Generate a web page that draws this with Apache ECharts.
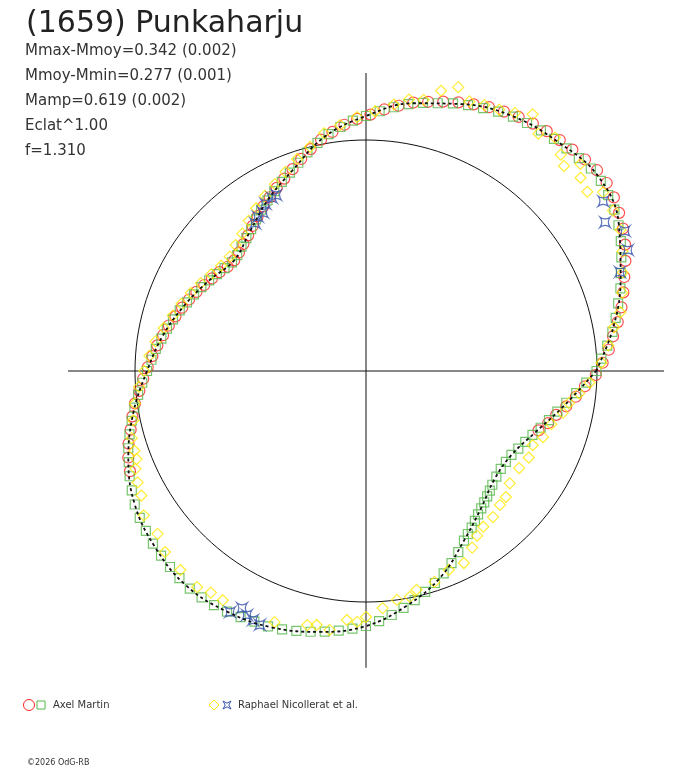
<!DOCTYPE html>
<html>
<head>
<meta charset="utf-8">
<script src="https://cdn.jsdelivr.net/npm/echarts@6/dist/echarts.min.js"></script>
<style>
html, body { margin: 0; padding: 0; background: #fff; }
#chart { width: 688px; height: 768px; }
</style>
</head>
<body>
<div id="chart"></div>
<script>
// all points are [phase angle in degrees, radius in units of the reference circle]
var titleText = '(1659) Punkaharju';
var statLines = ['Mmax-Mmoy=0.342 (0.002)', 'Mmoy-Mmin=0.277 (0.001)', 'Mamp=0.619 (0.002)', 'Eclat^1.00', 'f=1.310'];
var observers = ['Axel Martin', 'Raphael Nicollerat et al.'];
var footer = '\u00a92026 OdG-RB';

// fitted lightcurve, every 10 degrees
var fitAngles = [0, 10, 20, 30, 40, 50, 60, 70, 80, 90, 100, 110, 120, 130, 140, 150, 160, 170,
	180, 190, 200, 210, 220, 230, 240, 250, 260, 270, 280, 290, 300, 310, 320, 330, 340, 350, 360];
var fitRadius = [0.996, 1.087, 1.173, 1.264, 1.312, 1.294, 1.273, 1.229, 1.177, 1.104, 1.030, 0.926,
	0.853, 0.784, 0.745, 0.784, 0.835, 0.892, 0.948, 1.022, 1.095, 1.156, 1.190, 1.212, 1.203, 1.182,
	1.147, 1.104, 1.030, 0.948, 0.848, 0.775, 0.727, 0.727, 0.779, 0.870, 0.996];

// Axel Martin, squares
var martinSquares = [[0,0.998],[3,1.02],[6,1.05],[9,1.08],[12,1.105],[15,1.13],[18,1.158],[21,1.182],[24,1.21],[27,1.238],
	[30,1.262],[33,1.282],[36,1.296],[39,1.308],[42,1.31],[45,1.303],[48,1.297],[51,1.293],[54,1.288],[57,1.28],
	[60,1.272],[63,1.26],[66,1.246],[69,1.233],[72,1.218],[75,1.2],[78,1.187],[81,1.17],[84,1.148],[87,1.126],
	[90,1.104],[93,1.085],[96,1.062],[99,1.038],[102,1.01],[105,0.98],[108,0.948],[111,0.92],[114,0.896],[117,0.874],
	[120,0.853],[123,0.833],[126,0.811],[129,0.79],[132,0.774],[135,0.762],[138,0.75],[141,0.747],[144,0.757],[147,0.77],
	[150,0.784],[153,0.8],[156,0.815],[159,0.83],[162,0.848],[165,0.865],[168,0.881],[171,0.897],[174,0.915],[177,0.93],
	[180,0.948],[183,0.97],[186,0.992],[189,1.015],[192,1.037],[195,1.06],[198,1.082],[201,1.1],[204,1.12],[207,1.138],
	[210,1.156],[213,1.168],[216,1.178],[219,1.187],[222,1.194],[225,1.2],[228,1.207],[231,1.212],[234,1.211],[237,1.208],
	[240,1.203],[243,1.196],[246,1.188],[249,1.184],[252,1.176],[255,1.165],[258,1.154],[261,1.142],[264,1.13],[267,1.117],
	[270,1.104],[273,1.084],[276,1.062],[279,1.038],[282,1.014],[285,0.99],[288,0.965],[291,0.938],[294,0.91],[297,0.88],
	[300,0.848],[302,0.832],[304,0.818],[306,0.802],[308,0.788],[310,0.776],[312,0.765],[314,0.755],[316,0.745],[318,0.736],
	[321,0.726],[324,0.721],[327,0.722],[330,0.727],[333,0.74],[336,0.755],[339,0.772],[342,0.795],[345,0.82],[348,0.847],
	[351,0.878],[354,0.915],[357,0.955]];

// Axel Martin, circles
var martinCircles = [[341,0.79],[344,0.82],[347,0.845],[350,0.88],[353,0.915],[356,0.95],[359,0.995],[2,1.025],[5,1.055],[8,1.08],
	[11,1.11],[14,1.14],[17,1.165],[20,1.19],[23,1.22],[26,1.248],[29,1.272],[32,1.292],[35,1.31],[38,1.322],
	[41,1.325],[44,1.318],[47,1.31],[50,1.305],[53,1.3],[56,1.292],[59,1.283],[62,1.272],[65,1.26],[68,1.245],
	[71,1.23],[74,1.213],[77,1.196],[80,1.18],[83,1.157],[86,1.135],[89,1.11],[92,1.092],[95,1.07],[98,1.045],
	[101,1.02],[104,0.99],[107,0.96],[110,0.93],[113,0.905],[116,0.882],[119,0.86],[122,0.84],[125,0.818],[128,0.797],
	[131,0.778],[134,0.764],[137,0.752],[140,0.745],[143,0.75],[146,0.765],[149,0.778],[152,0.793],[155,0.81],[158,0.826],
	[161,0.842],[164,0.858],[167,0.876],[170,0.892],[173,0.91],[176,0.927],[179,0.945],[182,0.965],[185,0.985],[188,1.01],
	[191,1.03],[194,1.05],[197,1.075],[200,1.095],[203,1.11]];

// Raphael Nicollerat et al., diamonds
var nicolleratDiamonds = [[2,1.02],[6,1.055],[10,1.09],[13,1.13],[17,1.16],[21,1.19],[25,1.225],[29,1.26],[33,1.275],[37,1.285],
	[39,1.233],[42,1.25],[44,1.29],[46,1.234],[48,1.26],[51,1.3],[54,1.27],[57,1.325],[60,1.29],[63,1.27],
	[66,1.26],[69,1.25],[72,1.292],[75,1.256],[78,1.2],[81,1.19],[84,1.16],[88,1.125],[92,1.1],[96,1.07],
	[100,1.045],[104,1.0],[108,0.965],[112,0.93],[116,0.9],[120,0.875],[124,0.85],[128,0.825],[132,0.8],[136,0.785],
	[140,0.77],[144,0.775],[148,0.79],[152,0.81],[156,0.83],[160,0.85],[164,0.87],[168,0.895],[172,0.92],[176,0.94],
	[180,0.96],[184,0.985],[188,1.01],[192,1.03],[196,1.055],[199,1.06],[201,1.064],[203,1.084],[206,1.10],[209,1.112],
	[213,1.147],[218,1.145],[222,1.171],[227,1.178],[232,1.187],[235,1.171],[238,1.17],[250,1.157],[257,1.129],[259,1.12],
	[262,1.132],[265.6,1.081],[268,1.087],[270,1.065],[274,1.029],[277.7,1.0],[281,0.996],[283,0.972],[288,0.96],[292.6,0.933],
	[297,0.933],[301,0.892],[304,0.86],[307,0.844],[311,0.838],[315,0.82],[318,0.815],[322,0.79],[327.6,0.785],[332,0.798],
	[336,0.79],[339.5,0.818],[344,0.835],[348,0.871],[351,0.89],[354,0.928],[357,0.97]];

// Raphael Nicollerat et al., stars
var nicolleratStars = [[117,0.855],[118.5,0.853],[121,0.845],[123,0.818],[125,0.815],[126.9,0.80],
	[21.3,1.18],[24.8,1.249],[28.4,1.274],[31.9,1.219],[35.6,1.263],
	[240.6,1.198],[242.4,1.158],[244,1.175],[245.6,1.184],[247.3,1.191]];

var starPath = 'path://M0,0 Q5,3.5 10,0 Q6.5,5 10,10 Q5,6.5 0,10 Q3.5,5 0,0 Z';

function toPolar(list) {
	return list.map(function(p) { return [p[1], p[0]]; });
}

var unitCircle = [];
for (var a = 0; a <= 360; a += 2) unitCircle.push([1, a]);

var fitLine = fitAngles.map(function(a, i) { return [fitRadius[i], a]; });

function hollow(color) {
	return { color: 'rgba(0,0,0,0)', borderColor: color, borderWidth: 1.2 };
}

var red = '#ff2323', green = '#56b64a', yellow = '#ffe800', blue = '#3450ad';

var graphics = [{
	type: 'text', x: 26, y: 24,
	style: { text: titleText, font: '30px "DejaVu Sans"', fill: '#222', verticalAlign: 'middle' }
}];
statLines.forEach(function(t, i) {
	graphics.push({
		type: 'text', x: 25, y: 51 + i * 25,
		style: { text: t, font: '15px "DejaVu Sans"', fill: '#333', verticalAlign: 'middle' }
	});
});
graphics.push(
	{ type: 'circle', shape: { cx: 29, cy: 705, r: 5.5 }, style: { fill: 'none', stroke: red, lineWidth: 1 } },
	{ type: 'rect', shape: { x: 37, y: 701, width: 8, height: 8 }, style: { fill: 'none', stroke: green, lineWidth: 1 } },
	{ type: 'text', x: 53, y: 705, style: { text: observers[0], font: '10px "DejaVu Sans"', fill: '#333', verticalAlign: 'middle' } },
	{ type: 'polygon', shape: { points: [[214, 700], [219, 705], [214, 710], [209, 705]] }, style: { fill: 'none', stroke: yellow, lineWidth: 1 } },
	{ type: 'polygon', shape: { points: [[223, 701], [227, 703.2], [231, 701], [228.8, 705], [231, 709], [227, 706.8], [223, 709], [225.2, 705]] }, style: { fill: 'none', stroke: blue, lineWidth: 1 } },
	{ type: 'text', x: 238, y: 705, style: { text: observers[1], font: '10px "DejaVu Sans"', fill: '#333', verticalAlign: 'middle' } },
	{ type: 'text', x: 27, y: 763, style: { text: footer, font: '8px "DejaVu Sans"', fill: '#333', verticalAlign: 'middle' } }
);

var chart = echarts.init(document.getElementById('chart'), null, { renderer: 'canvas' });
chart.setOption({
	backgroundColor: '#fff',
	animation: false,
	// reference circle radius is 231 px, axis goes to 1.4 of it
	polar: { center: [366, 371], radius: 323.4 },
	angleAxis: {
		type: 'value', min: 0, max: 360, startAngle: 0, clockwise: false, show: false,
		axisLine: { show: false }, axisTick: { show: false }, axisLabel: { show: false }, splitLine: { show: false }
	},
	radiusAxis: {
		type: 'value', min: 0, max: 1.4, show: false,
		axisLine: { show: false }, axisTick: { show: false }, axisLabel: { show: false }, splitLine: { show: false }
	},
	graphic: graphics,
	series: [
		{ type: 'line', coordinateSystem: 'polar', data: [[1.29, 0], [0, 0], [1.29, 180]], symbol: 'none', silent: true, lineStyle: { color: '#111', width: 1 }, z: 1 },
		{ type: 'line', coordinateSystem: 'polar', data: [[1.29, 90], [0, 0], [1.285, 270]], symbol: 'none', silent: true, lineStyle: { color: '#111', width: 1 }, z: 1 },
		{ type: 'line', coordinateSystem: 'polar', data: unitCircle, symbol: 'none', silent: true, lineStyle: { color: '#111', width: 1 }, z: 1 },
		{ type: 'scatter', coordinateSystem: 'polar', data: toPolar(martinCircles), symbol: 'circle', symbolSize: 11, itemStyle: hollow(red), z: 2 },
		{ type: 'scatter', coordinateSystem: 'polar', data: toPolar(martinSquares), symbol: 'rect', symbolSize: 9, itemStyle: hollow(green), z: 3 },
		{ type: 'scatter', coordinateSystem: 'polar', data: toPolar(nicolleratDiamonds), symbol: 'diamond', symbolSize: 11, itemStyle: hollow(yellow), z: 4 },
		{ type: 'scatter', coordinateSystem: 'polar', data: toPolar(nicolleratStars), symbol: starPath, symbolSize: 10, itemStyle: hollow(blue), z: 5 },
		{ type: 'line', coordinateSystem: 'polar', data: fitLine, symbol: 'none', smooth: 0.4, silent: true, lineStyle: { color: '#111', width: 1.8, type: [3, 3] }, z: 6 }
	]
});
</script>
</body>
</html>
